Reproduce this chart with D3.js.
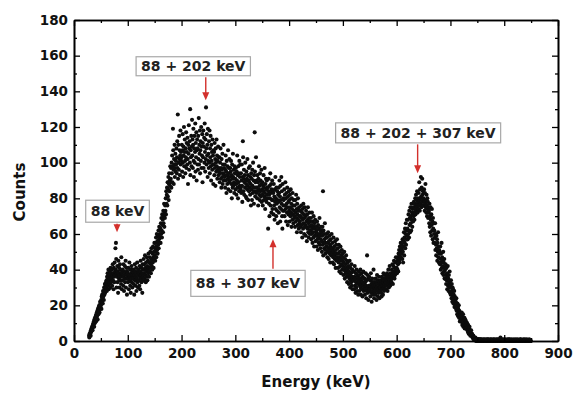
<!DOCTYPE html>
<html><head><meta charset="utf-8">
<script src="https://cdn.jsdelivr.net/npm/d3@7"></script>
<style>body{margin:0;background:#fff}svg{display:block}</style>
</head><body><svg id="c" width="573" height="393"></svg>
<script>
// ---- data ----
const xTicks = [0,100,200,300,400,500,600,700,800,900];
const yTicks = [0,20,40,60,80,100,120,140,160,180];
const channelStep = 0.5; // keV per channel
const rowStartEnergy = [28,30,40,50,60,70,80,90,100,110,120,130,140,150,160,170,180,190,200,210,220,230,240,250,260,270,280,290,300,310,320,330,340,350,360,370,380,390,400,410,420,430,440,450,460,470,480,490,500,510,520,530,540,550,560,570,580,590,600,610,620,630,640,650,660,670,680,690,700,710,720,730,740,750,760,770,780,790,800,810,820,830,840];
const rowCounts = [
[3,2,4,3],
[4,5,3,6,5,7,6,8,7,6,9,8,10,9,11,8,12,10,13,11],
[12,14,11,15,13,16,14,17,12,18,16,15,19,17,20,16,18,22,19,21],
[20,23,18,25,22,26,24,21,28,25,27,23,30,26,29,32,27,31,28,33],
[30,34,28,36,33,38,31,35,40,29,37,34,32,39,35,30,41,36,33,38],
[35,40,31,37,43,34,38,29,41,36,33,44,37,39,52,40,55,46,30,38],
[36,42,33,39,27,45,38,35,41,30,37,43,34,40,36,32,47,38,29,39],
[34,40,37,31,43,36,28,39,35,42,33,38,45,30,37,41,35,26,39,36],
[38,33,41,35,29,37,44,34,36,31,40,27,38,35,42,33,37,30,39,36],
[35,40,32,38,26,37,43,34,39,31,36,41,28,38,35,44,33,37,30,39],
[40,34,38,31,42,36,29,39,45,35,37,33,41,38,27,43,36,40,34,46],
[38,43,35,40,48,37,41,33,44,39,36,47,42,34,40,45,38,49,41,36],
[44,39,47,41,50,43,38,46,52,42,45,40,49,44,53,47,41,50,46,55],
[48,52,45,55,50,58,47,53,60,51,56,49,59,54,62,52,57,64,55,60],
[58,63,55,66,60,69,62,58,71,65,68,61,73,66,70,77,64,72,69,76],
[73,80,71,84,77,82,86,76,89,81,85,92,79,88,94,84,90,87,98,89],
[91,97,86,100,94,104,89,98,119,107,96,88,102,99,110,92,97,105,95,101],
[99,108,94,103,112,97,127,91,110,100,96,115,102,107,93,104,118,99,106,101],
[103,110,95,107,116,100,92,109,104,120,98,106,113,101,94,108,103,117,97,111],
[106,99,114,102,88,110,105,121,96,108,112,100,130,93,107,103,115,98,109,124],
[104,113,97,110,119,101,92,108,115,100,106,122,95,111,103,117,90,107,113,99],
[108,96,115,102,125,99,110,105,118,94,107,112,101,120,97,109,104,116,89,111],
[103,118,97,109,114,100,122,106,95,113,102,131,108,99,116,104,110,92,119,101],
[105,97,112,100,118,94,108,103,115,98,90,110,101,106,96,113,99,104,88,107],
[99,106,93,111,97,102,87,108,100,95,113,98,104,91,101,96,109,93,103,97],
[95,103,89,100,94,108,91,97,86,102,96,92,105,88,99,94,110,90,97,93],
[92,99,86,96,104,90,95,83,101,93,88,98,91,107,85,94,97,89,102,92],
[90,97,84,95,101,88,93,80,99,91,86,105,92,87,96,89,83,98,94,88],
[91,85,97,88,82,95,90,104,86,93,80,98,89,94,84,101,87,92,99,85],
[86,94,83,90,99,87,78,92,112,103,84,91,96,82,89,93,86,100,90,81],
[88,95,80,91,85,102,87,93,79,90,97,84,89,86,98,82,92,88,76,94],
[85,91,79,96,87,83,100,86,90,77,93,84,117,95,81,89,86,103,83,90],
[86,80,93,84,89,76,91,85,98,82,87,79,94,84,90,81,88,96,78,85],
[82,89,76,87,84,93,79,86,81,97,83,74,88,80,91,85,78,90,82,86],
[80,86,63,84,91,77,82,70,87,80,94,76,83,88,72,85,79,90,74,84],
[79,83,71,88,76,81,68,85,78,92,74,80,70,86,77,73,84,79,66,82],
[78,86,72,83,90,75,81,67,87,79,74,92,77,84,70,63,88,73,80,76],
[79,73,85,70,82,76,89,74,80,67,83,77,72,86,75,65,81,78,71,84],
[73,79,67,82,75,70,85,72,77,64,80,74,68,83,71,76,66,79,73,69],
[70,76,64,79,72,67,82,69,74,61,77,71,65,80,68,73,63,75,70,66],
[67,73,64,70,61,76,69,65,72,58,74,68,63,77,66,71,60,69,75,64],
[65,70,59,73,64,67,56,71,63,68,75,61,66,58,69,64,72,60,67,62],
[62,69,57,65,60,72,63,55,67,61,58,70,64,53,66,59,63,68,56,61],
[59,64,53,62,67,57,60,51,65,58,55,63,60,69,54,59,52,62,57,64],
[56,61,50,59,64,54,84,48,62,55,52,60,57,66,51,55,49,58,53,60],
[53,58,47,55,50,61,52,46,56,51,59,49,54,44,53,57,48,52,60,50],
[49,55,44,52,47,58,50,43,53,48,46,56,49,41,51,54,45,49,57,47],
[46,52,41,49,44,54,47,39,50,45,42,53,46,38,48,43,51,40,45,49],
[42,47,37,44,40,50,41,35,46,39,43,38,48,36,41,45,33,40,44,38],
[37,42,32,39,35,45,36,30,41,34,38,33,43,31,36,40,29,35,39,34],
[34,39,29,36,42,31,35,27,38,33,30,40,35,28,37,32,36,26,34,39],
[33,28,37,31,35,40,30,26,34,32,38,29,33,25,36,31,39,28,32,35],
[30,35,26,33,29,38,31,24,34,28,48,37,27,30,35,23,31,29,36,28],
[29,34,25,31,38,27,32,22,30,35,28,33,26,31,40,29,24,33,30,27],
[31,26,35,29,33,23,30,37,28,32,25,34,29,27,36,31,24,30,33,28],
[30,34,27,32,25,36,31,29,35,26,33,38,30,28,34,31,37,29,32,35],
[33,29,36,31,38,34,28,37,32,40,35,30,36,33,42,34,31,38,36,33],
[36,33,40,35,43,37,32,39,42,36,45,38,35,41,37,44,39,47,40,38],
[41,38,45,40,47,43,39,49,45,51,44,48,53,46,50,55,47,52,49,54],
[51,46,57,50,44,56,53,61,48,58,55,63,52,60,66,54,62,57,68,59],
[63,57,68,60,71,62,58,73,65,69,61,75,66,70,62,77,68,72,64,74],
[71,67,75,70,78,72,68,77,74,80,71,76,82,73,79,75,84,77,72,80],
[78,74,83,76,89,79,73,85,80,77,92,81,75,86,78,91,82,76,84,79],
[80,76,85,78,73,83,77,88,75,79,72,82,76,70,80,74,78,69,75,72],
[73,66,77,64,70,61,75,68,59,71,65,74,62,67,57,69,63,55,66,60],
[62,55,58,66,51,60,54,48,59,52,57,45,55,50,61,47,53,44,51,49],
[50,43,53,46,40,49,44,55,41,47,38,45,42,50,37,44,39,46,35,41],
[40,35,43,37,32,41,34,38,29,36,42,31,35,28,37,33,30,39,27,32],
[31,26,34,28,24,32,27,22,30,25,29,21,26,23,28,19,25,22,20,24],
[22,18,24,17,20,15,21,19,14,18,16,20,13,17,15,11,16,14,12,15],
[14,11,16,12,9,13,10,15,8,12,11,9,13,7,10,12,8,9,11,7],
[9,7,10,6,8,5,9,6,4,7,5,8,4,6,3,5,4,6,3,4],
[4,3,2,3,2,3,1,2,2,1,2,1,1,2,1,0,1,1,0,1],
[1,0,1,1,0,0,1,0,0,1,0,0,1,0,0,0,1,0,0,0],
[0,0,1,0,0,0,0,1,0,0,0,0,0,1,0,0,0,0,1,0],
[0,1,0,0,0,0,0,0,1,0,0,0,1,0,0,0,0,0,0,1],
[0,0,0,1,0,0,0,0,0,0,1,0,0,0,0,1,0,0,0,0],
[1,0,0,0,0,0,2,0,0,0,0,1,0,0,0,0,0,0,1,0],
[0,0,0,0,1,0,0,0,0,0,0,0,1,0,0,0,0,1,0,0],
[0,1,0,0,0,0,0,0,1,0,0,0,0,0,0,0,1,0,0,0],
[0,0,0,1,0,0,0,0,0,0,1,0,0,0,0,0,0,0,0,1],
[0,0,1,0,0,0,0,0,0,0,0,1,0,0,0,0,0,1,0,0],
[0,0,0,0,1,0,0,0,0,0,0,0,0,1,0,0,0,0,0,0]
];
const annotationLabels = ["88 + 202 keV","88 + 202 + 307 keV","88 keV","88 + 307 keV"];
const annotationEnergy = [245, 639, 80, 370];
const annotationCount  = [135, 94, 61, 57];

// ---- layout / style ----
const layout = [
  {dir:"down", dx:-12.5, gap:24.5, h:19},
  {dir:"down", dx:0.5,  gap:30.5, h:20},
  {dir:"down", dx:0.5,  gap:10,   h:22},
  {dir:"up",   dx:-25,  gap:31,   h:26}
];
const FONT = "'DejaVu Sans', sans-serif";
const svg = d3.select("#c");
const x = d3.scaleLinear().domain([0,900]).range([74,558]);
const y = d3.scaleLinear().domain([0,180]).range([341,20]);

// points
const pts = [];
rowStartEnergy.forEach((e0,i)=>{
  (rowCounts[i]||[]).forEach((c,j)=>pts.push({e:e0+j*channelStep, c}));
});
svg.append("g").selectAll("circle").data(pts).join("circle")
  .attr("cx",d=>x(d.e)).attr("cy",d=>y(d.c)).attr("r",2.05).attr("fill","#0d0d0d");

// axes
const minorX = d3.range(50,900,100), minorY = d3.range(10,180,20);
function styleAxis(g){
  g.select(".domain").attr("stroke","#000").attr("stroke-width",1.6);
  g.selectAll(".tick line").attr("stroke","#000").attr("stroke-width",1.3);
  g.selectAll("text").attr("font-family",FONT).attr("font-weight","bold").attr("font-size","13.5px").attr("fill","#111");
}
svg.append("g").attr("transform","translate(0,341)")
  .call(d3.axisBottom(x).tickValues(xTicks).tickSize(-6).tickSizeOuter(0).tickPadding(7).tickFormat(d3.format("d"))).call(styleAxis);
svg.append("g").attr("transform","translate(0,341)")
  .call(d3.axisBottom(x).tickValues(minorX).tickSize(-3).tickSizeOuter(0).tickFormat("")).call(styleAxis);
svg.append("g").attr("transform","translate(0,20)")
  .call(d3.axisTop(x).tickValues(xTicks).tickSize(-6).tickSizeOuter(0).tickFormat("")).call(styleAxis);
svg.append("g").attr("transform","translate(0,20)")
  .call(d3.axisTop(x).tickValues(minorX).tickSize(-3).tickSizeOuter(0).tickFormat("")).call(styleAxis);
svg.append("g").attr("transform","translate(74,0)")
  .call(d3.axisLeft(y).tickValues(yTicks).tickSize(-6).tickSizeOuter(0).tickPadding(6).tickFormat(d3.format("d"))).call(styleAxis);
svg.append("g").attr("transform","translate(74,0)")
  .call(d3.axisLeft(y).tickValues(minorY).tickSize(-3).tickSizeOuter(0).tickFormat("")).call(styleAxis);
svg.append("g").attr("transform","translate(558,0)")
  .call(d3.axisRight(y).tickValues(yTicks).tickSize(-6).tickSizeOuter(0).tickFormat("")).call(styleAxis);
svg.append("g").attr("transform","translate(558,0)")
  .call(d3.axisRight(y).tickValues(minorY).tickSize(-3).tickSizeOuter(0).tickFormat("")).call(styleAxis);

// axis titles
svg.append("text").attr("x",316).attr("y",387).attr("text-anchor","middle")
  .attr("font-family",FONT).attr("font-weight","bold").attr("font-size","15px").attr("fill","#111").text("Energy (keV)");
svg.append("text").attr("transform","translate(25,192) rotate(-90)").attr("text-anchor","middle")
  .attr("font-family",FONT).attr("font-weight","bold").attr("font-size","15px").attr("fill","#111").text("Counts");

// annotations
const RED = "#d3302c";
annotationLabels.forEach((lab,i)=>{
  const L = layout[i];
  const tx = x(annotationEnergy[i]), ty = y(annotationCount[i]);
  const g = svg.append("g");
  const t = g.append("text").attr("font-family",FONT).attr("font-weight","bold")
    .attr("font-size","14px").attr("fill","#222").attr("text-anchor","middle").text(lab);
  const w = t.node().getComputedTextLength() + 10;
  const cx = tx + L.dx;
  let top, edge, headDir;
  if (L.dir==="down"){ top = ty - L.gap - L.h; edge = top + L.h; headDir = 1; }
  else { top = ty + L.gap; edge = top; headDir = -1; }
  g.insert("rect","text").attr("x",cx-w/2).attr("y",top).attr("width",w).attr("height",L.h)
    .attr("fill","#fff").attr("stroke","#a8a8a8").attr("stroke-width",1.2);
  t.attr("x",cx).attr("y",top+L.h/2+5.1);
  g.append("line").attr("x1",tx).attr("x2",tx).attr("y1",edge+headDir*1.5).attr("y2",ty-headDir*6)
    .attr("stroke",RED).attr("stroke-width",1.4);
  g.append("path").attr("d",`M${tx},${ty} L${tx-3.5},${ty-headDir*8} L${tx+3.5},${ty-headDir*8} Z`).attr("fill",RED);
});
</script></body></html>
